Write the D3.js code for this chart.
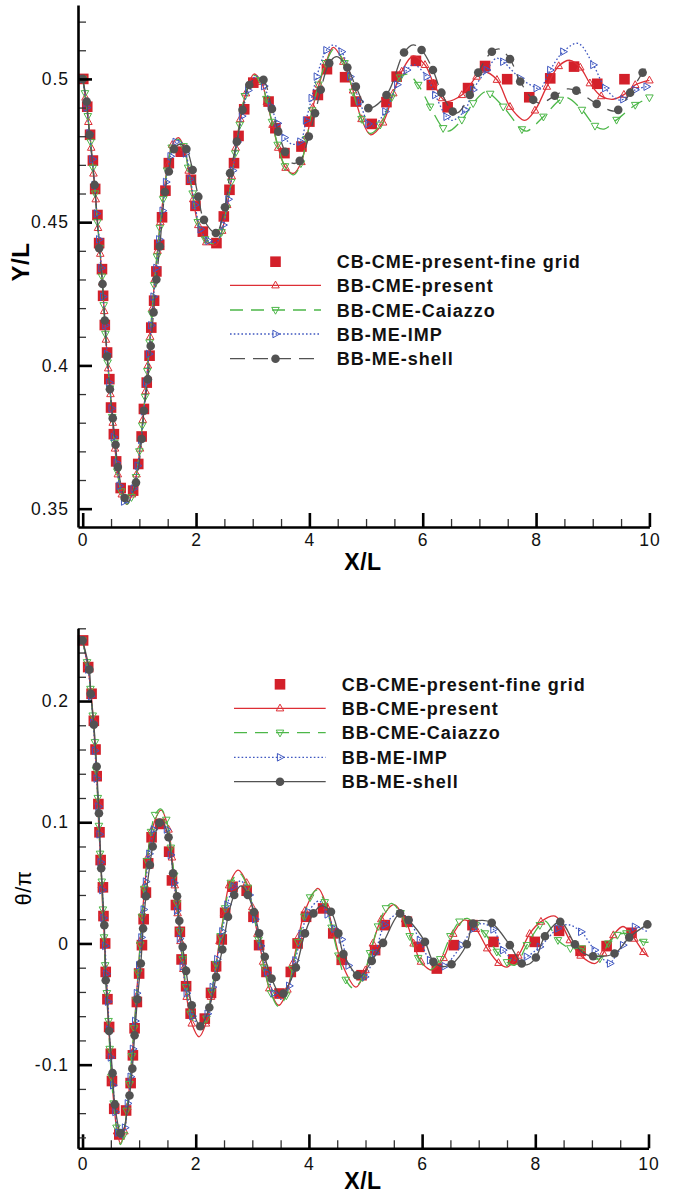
<!DOCTYPE html>
<html>
<head>
<meta charset="utf-8">
<script src="https://cdn.jsdelivr.net/npm/d3@7"></script>
<style>
  body { margin: 0; background: #fff; }
  svg { display: block; }
  text { font-family: "Liberation Sans", Arial, Helvetica, sans-serif; }
</style>
</head>
<body>
<div id="chart"></div>
<script>
// Nomes da legenda e ticks
const legendNames = ["CB-CME-present-fine grid", "BB-CME-present", "BB-CME-Caiazzo", "BB-ME-IMP", "BB-ME-shell"];
const xTicks = [0, 2, 4, 6, 8, 10];
const yTicksTop = [0.35, 0.4, 0.45, 0.5];
const yTicksBot = [-0.1, 0, 0.1, 0.2];

// ---------- painel de cima: Y/L ----------
// pontos [x, y]; com terceiro elemento 0 = ponto só da linha (sem marcador)
const topFine = [[0.01,0.500],[0.08,0.4903],[0.13,0.4805],[0.18,0.4715],[0.22,0.4616],[0.26,0.4525],[0.29,0.4427],[0.34,0.4336],[0.36,0.4243],[0.39,0.4141],[0.43,0.4045],[0.47,0.3952],[0.50,0.3853],[0.55,0.3760],[0.59,0.3665],[0.67,0.3572],[0.89,0.3563],[0.98,0.3656],[1.04,0.3752],[1.08,0.3848],[1.13,0.3940],[1.18,0.4034],[1.21,0.4132],[1.26,0.4226],[1.30,0.4328],[1.35,0.4421],[1.40,0.4517],[1.46,0.4610],[1.52,0.4706],[1.73,0.4746],[1.91,0.4648],[1.99,0.4557],[2.12,0.4467],[2.36,0.4427],[2.49,0.4520],[2.59,0.4613],[2.67,0.4706],[2.75,0.4801],[2.85,0.4894],[3.01,0.4987],[3.28,0.4921],[3.40,0.4828],[3.56,0.4741],[3.86,0.4764],[4.00,0.4851],[4.15,0.4944],[4.31,0.5034],[4.63,0.5006],[4.82,0.4921],[5.10,0.4843],[5.36,0.4919],[5.54,0.5008],[5.88,0.5063],[6.16,0.4979],[6.44,0.4901],[6.80,0.4968],[7.10,0.5045],[7.49,0.4999],[7.88,0.4936],[8.25,0.5002],[8.67,0.5043],[9.08,0.4983],[9.56,0.4999]];

const topPresent = [[0.00,0.500],[0.05,0.4935],[0.10,0.485],[0.15,0.476],[0.19,0.467],[0.23,0.458],[0.27,0.448],[0.31,0.439],[0.345,0.429],[0.38,0.419],[0.41,0.409],[0.45,0.399],[0.49,0.390],[0.53,0.380],[0.57,0.371],[0.62,0.362],[0.69,0.355],[0.78,0.3515,0],[0.87,0.355],[0.95,0.362],[1.01,0.371],[1.06,0.381],[1.11,0.391],[1.15,0.400],[1.19,0.410],[1.23,0.420],[1.27,0.430],[1.32,0.440],[1.37,0.450],[1.43,0.460],[1.50,0.470],[1.58,0.477],[1.69,0.4795,0],[1.79,0.476],[1.87,0.468],[1.95,0.458],[2.04,0.449],[2.18,0.443],[2.35,0.442,0],[2.46,0.447],[2.55,0.456],[2.63,0.466],[2.70,0.476],[2.78,0.486],[2.88,0.495],[3.02,0.5017,0],[3.15,0.499],[3.25,0.492],[3.35,0.484],[3.45,0.476],[3.58,0.469],[3.72,0.467,0],[3.86,0.471],[3.96,0.480],[4.06,0.490],[4.17,0.498],[4.29,0.5055],[4.42,0.511,0],[4.60,0.506],[4.77,0.496],[4.92,0.486],[5.08,0.4805,0],[5.30,0.4848],[5.48,0.495],[5.63,0.5026],[5.83,0.508,0],[6.04,0.5049],[6.19,0.4985],[6.34,0.4933],[6.42,0.4921,0],[6.69,0.4944],[6.95,0.5008],[7.08,0.5025,0],[7.31,0.4997],[7.54,0.4903],[7.80,0.4855,0],[7.98,0.489],[8.19,0.4973],[8.40,0.5045],[8.60,0.5065,0],[8.78,0.504],[8.95,0.4985],[9.15,0.494],[9.36,0.4929,0],[9.55,0.4945],[9.75,0.4979],[10.0,0.4995]];

const topCaiazzo = [[0.00,0.500],[0.04,0.495],[0.09,0.487],[0.14,0.478],[0.18,0.469],[0.22,0.460],[0.26,0.450],[0.30,0.441],[0.34,0.431],[0.37,0.421],[0.40,0.411],[0.44,0.401],[0.48,0.392],[0.52,0.382],[0.56,0.373],[0.61,0.363],[0.68,0.356],[0.78,0.3515,0],[0.86,0.354],[0.94,0.361],[1.00,0.370],[1.05,0.379],[1.10,0.389],[1.14,0.398],[1.18,0.408],[1.22,0.418],[1.26,0.428],[1.31,0.438],[1.36,0.448],[1.42,0.458],[1.49,0.468],[1.57,0.476],[1.68,0.479,0],[1.78,0.4765],[1.86,0.469],[1.94,0.460],[2.03,0.450],[2.16,0.444],[2.34,0.4425,0],[2.45,0.4465],[2.54,0.455],[2.62,0.464],[2.69,0.474],[2.77,0.484],[2.86,0.494],[3.01,0.5012,0],[3.14,0.4995],[3.24,0.493],[3.34,0.485],[3.44,0.477],[3.57,0.4695],[3.72,0.4665,0],[3.85,0.4705],[3.95,0.479],[4.05,0.489],[4.16,0.498],[4.29,0.5055],[4.44,0.5105,0],[4.62,0.5055],[4.77,0.4955],[4.92,0.486],[5.07,0.481,0],[5.25,0.484],[5.45,0.4935],[5.60,0.5005],[5.74,0.5016,0],[5.92,0.4979],[6.13,0.4903],[6.36,0.4828],[6.46,0.4818,0],[6.69,0.4857],[6.89,0.4915],[7.10,0.4955,0],[7.19,0.4948],[7.42,0.4903],[7.75,0.4824],[7.84,0.4818,0],[8.13,0.4868],[8.42,0.4927],[8.54,0.4935,0],[8.81,0.4892],[9.04,0.4836],[9.20,0.4825,0],[9.42,0.4857],[9.75,0.4909],[10.0,0.4935]];

const topIMP = [[0.00,0.500],[0.07,0.490],[0.12,0.481],[0.17,0.472],[0.21,0.463],[0.25,0.453],[0.29,0.444],[0.33,0.434],[0.36,0.424],[0.40,0.414],[0.43,0.404],[0.47,0.394],[0.51,0.385],[0.55,0.375],[0.60,0.366],[0.65,0.358],[0.73,0.3525],[0.79,0.3518,0],[0.90,0.357],[0.97,0.365],[1.03,0.374],[1.08,0.384],[1.12,0.394],[1.17,0.404],[1.21,0.414],[1.25,0.424],[1.30,0.434],[1.35,0.444],[1.41,0.454],[1.47,0.464],[1.55,0.473],[1.64,0.478],[1.71,0.4785,0],[1.82,0.474],[1.90,0.465],[1.98,0.456],[2.08,0.4475],[2.22,0.4435],[2.36,0.443,0],[2.48,0.449],[2.57,0.458],[2.65,0.468],[2.73,0.478],[2.81,0.487],[2.92,0.496],[3.06,0.501,0],[3.20,0.4975],[3.32,0.4905],[3.44,0.4845],[3.56,0.4795],[3.70,0.4772,0],[3.84,0.4781],[3.94,0.4855],[4.04,0.4933],[4.13,0.5008],[4.30,0.5100],[4.42,0.5118,0],[4.57,0.5095],[4.72,0.5008],[4.89,0.4921],[5.04,0.4843],[5.12,0.4835,0],[5.34,0.4886],[5.55,0.498],[5.72,0.5031],[5.84,0.505,0],[6.07,0.5008],[6.22,0.4944],[6.42,0.4868],[6.52,0.4855,0],[6.75,0.4892],[6.89,0.4962],[7.13,0.5031],[7.30,0.5072,0],[7.42,0.5060],[7.72,0.5002],[8.01,0.4968],[8.07,0.4964,0],[8.25,0.5031],[8.48,0.5095],[8.74,0.5124,0],[9.01,0.5049],[9.22,0.4968],[9.45,0.4927,0],[9.54,0.4929],[9.75,0.4962],[9.95,0.4973],[10.0,0.4975,0]];

const topShell = [[0.00,0.500],[0.07,0.4921],[0.12,0.4805],[0.21,0.463],[0.29,0.4409],[0.35,0.4284],[0.39,0.4157],[0.43,0.4031],[0.48,0.3917],[0.53,0.3816],[0.58,0.3723],[0.62,0.3645],[0.74,0.3537],[0.80,0.3525,0],[0.94,0.3591],[1.04,0.3743],[1.08,0.3842],[1.15,0.3952],[1.20,0.4068],[1.25,0.4185],[1.30,0.430],[1.36,0.4415],[1.45,0.4605],[1.52,0.4677],[1.61,0.4755],[1.72,0.4772,0],[1.83,0.4755],[1.94,0.4682],[2.04,0.4589],[2.14,0.4508],[2.35,0.4462],[2.51,0.4552],[2.60,0.4671],[2.72,0.4781],[2.82,0.4892],[2.94,0.4979],[3.08,0.5005,0],[3.19,0.4997],[3.34,0.4895],[3.45,0.4816],[3.57,0.4746],[3.70,0.4706,0],[3.83,0.4714],[3.99,0.4799],[4.10,0.488],[4.20,0.4962],[4.35,0.5055],[4.48,0.5078,0],[4.67,0.504],[4.82,0.4973],[5.04,0.4898],[5.36,0.4944],[5.67,0.5092],[5.83,0.5119,0],[5.98,0.5101],[6.18,0.5031],[6.33,0.4952],[6.53,0.4886],[6.62,0.4882,0],[6.83,0.4944],[6.98,0.5022],[7.22,0.5095],[7.36,0.5104,0],[7.54,0.5069],[7.72,0.4991],[7.95,0.4927],[8.07,0.4915,0],[8.33,0.4941],[8.55,0.4965,0],[8.71,0.4959],[9.07,0.4913],[9.35,0.4888,0],[9.45,0.4892],[9.66,0.4952],[9.88,0.5022],[10.0,0.5055,0]];

// ---------- painel de baixo: theta/pi ----------
const botFine = [[0.01,0.250],[0.10,0.228],[0.16,0.206],[0.20,0.1837],[0.23,0.160],[0.25,0.138],[0.28,0.115],[0.30,0.0917],[0.32,0.0688],[0.36,0.0463],[0.37,0.0226],[0.40,0.000],[0.41,-0.0235],[0.44,-0.046],[0.47,-0.0689],[0.50,-0.091],[0.52,-0.1135],[0.56,-0.1364],[0.65,-0.1576],[0.77,-0.1378],[0.85,-0.1152],[0.89,-0.0923],[0.92,-0.070],[0.96,-0.0483],[1.00,-0.0248],[1.05,-0.0014],[1.08,0.020],[1.12,0.042],[1.16,0.0661],[1.22,0.0876],[1.37,0.0986],[1.53,0.0757],[1.58,0.052],[1.65,0.0317],[1.72,0.0096],[1.75,-0.0132],[1.83,-0.0353],[1.91,-0.0579],[2.16,-0.062],[2.27,-0.0408],[2.36,-0.0188],[2.46,0.0033],[2.52,0.0253],[2.65,0.0468],[2.90,0.0435],[3.02,0.022],[3.12,-0.0014],[3.25,-0.0235],[3.48,-0.0413],[3.68,-0.0235],[3.80,0.000],[3.95,0.022],[4.25,0.0289],[4.43,0.0083],[4.58,-0.0135],[4.93,-0.0262],[5.17,-0.0055],[5.34,0.0151],[5.73,0.0179],[5.95,-0.0028],[6.26,-0.0207],[6.56,-0.0014],[6.89,0.0151],[7.26,0.0013],[7.61,-0.0132],[7.99,0.0013],[8.42,0.0104],[8.80,-0.0061],[9.26,-0.0022],[9.70,0.0088]];

const botPresent = [[0.00,0.250],[0.09,0.229],[0.15,0.207],[0.19,0.185],[0.22,0.162],[0.25,0.140],[0.27,0.117],[0.29,0.094],[0.32,0.071],[0.34,0.048],[0.36,0.025],[0.39,0.002],[0.41,-0.021],[0.44,-0.044],[0.46,-0.067],[0.49,-0.090],[0.52,-0.113],[0.56,-0.135],[0.61,-0.155],[0.67,-0.165,0],[0.74,-0.155],[0.79,-0.135],[0.84,-0.113],[0.88,-0.090],[0.92,-0.067],[0.95,-0.044],[0.99,-0.021],[1.02,0.002],[1.06,0.025],[1.10,0.048],[1.15,0.071],[1.22,0.093],[1.39,0.110,0],[1.52,0.094],[1.58,0.071],[1.63,0.048],[1.68,0.025],[1.73,0.002],[1.78,-0.021],[1.84,-0.044],[1.93,-0.066],[2.06,-0.077,0],[2.18,-0.066],[2.27,-0.044],[2.35,-0.021],[2.42,0.002],[2.50,0.025],[2.59,0.048],[2.75,0.0605,0],[2.90,0.050],[3.00,0.030],[3.09,0.008],[3.19,-0.015],[3.30,-0.037],[3.47,-0.051,0],[3.62,-0.038],[3.72,-0.016],[3.82,0.006],[3.93,0.027],[4.16,0.0455,0],[4.32,0.030],[4.44,0.008],[4.57,-0.015],[4.83,-0.036,0],[5.00,-0.022],[5.13,0.000],[5.28,0.020],[5.50,0.032,0],[5.70,0.020],[5.85,0.000],[5.98,-0.015],[6.18,-0.022,0],[6.38,-0.012],[6.55,0.008],[6.75,0.0195,0],[6.95,0.012],[7.15,-0.004],[7.35,-0.016],[7.50,-0.0195,0],[7.70,-0.010],[7.90,0.008],[8.10,0.018],[8.35,0.0225,0],[8.61,0.0027],[8.80,-0.010],[9.06,-0.0165,0],[9.20,-0.008],[9.38,0.0069],[9.55,0.0140,0],[9.75,0.004],[9.91,-0.007],[10.0,-0.011,0]];

const botCaiazzo = [[0.00,0.250],[0.08,0.232],[0.14,0.210],[0.18,0.188],[0.22,0.166],[0.24,0.143],[0.27,0.120],[0.29,0.097],[0.31,0.074],[0.34,0.051],[0.36,0.028],[0.38,0.005],[0.40,-0.018],[0.43,-0.041],[0.46,-0.064],[0.48,-0.087],[0.51,-0.110],[0.55,-0.132],[0.60,-0.152],[0.67,-0.166,0],[0.73,-0.158],[0.78,-0.138],[0.83,-0.116],[0.87,-0.093],[0.91,-0.070],[0.95,-0.047],[0.98,-0.024],[1.02,-0.001],[1.05,0.022],[1.09,0.045],[1.14,0.068],[1.21,0.092],[1.28,0.106],[1.38,0.111,0],[1.48,0.102],[1.56,0.079],[1.62,0.056],[1.67,0.033],[1.72,0.010],[1.77,-0.013],[1.83,-0.036],[1.91,-0.058],[2.05,-0.0705,0],[2.19,-0.062],[2.28,-0.040],[2.36,-0.017],[2.44,0.006],[2.52,0.029],[2.62,0.050],[2.77,0.058,0],[2.92,0.046],[3.02,0.025],[3.11,0.003],[3.21,-0.020],[3.33,-0.041],[3.46,-0.052,0],[3.60,-0.043],[3.71,-0.021],[3.81,0.001],[3.92,0.022],[4.02,0.038],[4.14,0.044,0],[4.28,0.034],[4.40,0.013],[4.52,-0.010],[4.65,-0.030],[4.79,-0.037,0],[4.95,-0.028],[5.08,-0.008],[5.22,0.014],[5.36,0.029],[5.46,0.033,0],[5.62,0.025],[5.78,0.006],[5.93,-0.012],[6.13,-0.022,0],[6.32,-0.013],[6.50,0.006],[6.66,0.018],[6.80,0.0207,0],[6.95,0.015],[7.11,0.0083],[7.32,-0.0069],[7.50,-0.0155],[7.64,-0.0179,0],[7.85,-0.0014],[8.08,0.0151],[8.18,0.0185,0],[8.40,0.0027],[8.62,-0.004],[8.82,-0.0041],[9.00,-0.012,0],[9.14,-0.0124],[9.29,0.000],[9.45,0.007],[9.61,0.0083],[9.91,0.0013],[10.0,0.001,0]];

const botIMP = [[0.00,0.250],[0.10,0.226],[0.15,0.204],[0.19,0.182],[0.22,0.159],[0.25,0.136],[0.28,0.113],[0.30,0.090],[0.32,0.067],[0.35,0.044],[0.37,0.021],[0.40,-0.002],[0.42,-0.025],[0.45,-0.048],[0.47,-0.071],[0.50,-0.094],[0.54,-0.117],[0.58,-0.139],[0.63,-0.156],[0.68,-0.161,0],[0.75,-0.152],[0.80,-0.132],[0.85,-0.110],[0.89,-0.087],[0.93,-0.064],[0.96,-0.041],[1.00,-0.018],[1.04,0.005],[1.08,0.028],[1.12,0.051],[1.18,0.074],[1.26,0.094],[1.37,0.102,0],[1.49,0.094],[1.56,0.073],[1.62,0.050],[1.67,0.027],[1.72,0.004],[1.77,-0.019],[1.84,-0.041],[1.94,-0.060],[2.08,-0.068,0],[2.21,-0.058],[2.30,-0.036],[2.38,-0.013],[2.47,0.010],[2.56,0.032],[2.67,0.047],[2.80,0.0515,0],[2.95,0.040],[3.05,0.020],[3.15,-0.002],[3.26,-0.024],[3.38,-0.041],[3.51,-0.046,0],[3.65,-0.035],[3.76,-0.014],[3.87,0.008],[3.99,0.026],[4.18,0.035,0],[4.33,0.024],[4.45,0.012],[4.58,0.0033],[4.70,-0.0182],[4.92,-0.028,0],[4.99,-0.0276],[5.17,-0.008],[5.34,0.0151],[5.60,0.025,0],[5.76,0.0193],[5.96,0.0027],[6.14,-0.0138],[6.36,-0.019,0],[6.40,-0.0188],[6.70,-0.0014],[6.90,0.012],[7.05,0.0165,0],[7.26,0.0116],[7.43,-0.0055],[7.68,-0.0145,0],[7.85,-0.011],[8.08,-0.0028],[8.40,0.0124],[8.58,0.0155,0],[8.81,0.0096],[9.05,-0.0055],[9.30,-0.0168,0],[9.32,-0.0165],[9.55,-0.0014],[9.76,0.0137],[10.0,0.009,0]];

const botShell = [[0.00,0.250],[0.12,0.2259],[0.145,0.206],[0.20,0.1804],[0.25,0.146],[0.29,0.1074],[0.33,0.062],[0.385,0.0151],[0.41,-0.0303],[0.47,-0.0722],[0.53,-0.107],[0.57,-0.1328],[0.67,-0.1565],[0.70,-0.157,0],[0.83,-0.1254],[0.88,-0.1033],[0.92,-0.0758],[0.97,-0.046],[1.03,-0.0165],[1.07,0.0124],[1.12,0.039],[1.19,0.0647],[1.24,0.080],[1.36,0.0997],[1.41,0.100,0],[1.52,0.0876],[1.60,0.0579],[1.67,0.039],[1.71,0.0187],[1.77,-0.0028],[1.83,-0.0226],[1.93,-0.051],[2.08,-0.0683],[2.24,-0.0529],[2.36,-0.0276],[2.47,-0.005],[2.57,0.022],[2.68,0.040],[2.80,0.0475,0],[2.92,0.040],[3.03,0.026],[3.12,0.0083],[3.22,-0.011],[3.34,-0.029],[3.50,-0.043,0],[3.55,-0.0413],[3.77,-0.0198],[3.93,0.0083],[4.08,0.0248],[4.22,0.031,0],[4.39,0.0261],[4.52,0.0083],[4.61,-0.0088],[4.85,-0.0262],[4.92,-0.027,0],[5.11,-0.0144],[5.31,0.0005],[5.61,0.0248],[5.76,0.0193],[6.05,0.0013],[6.20,-0.0152],[6.36,-0.019,0],[6.52,-0.0171],[6.79,-0.0006],[6.90,0.0165],[7.05,0.019,0],[7.23,0.017],[7.55,-0.0014],[7.76,-0.0165],[7.86,-0.0175,0],[8.01,-0.0116],[8.17,0.006],[8.44,0.0179],[8.70,-0.0006],[8.85,-0.008,0],[9.02,-0.0105],[9.40,-0.0083],[9.66,0.005],[9.98,0.0157]];

// Estilos das séries
const red = "#dd2e35", green = "#4cb748", blue = "#3f57c0", gray = "#525252", sqRed = "#d3202a";

const width = 674, height = 1195;
const svg = d3.select("#chart").append("svg")
  .attr("width", width)
  .attr("height", height);

// Caminhos dos marcadores triangulares
const triPath = {
  up: r => `M0,${-r}L${r * 0.9},${r * 0.62}L${-r * 0.9},${r * 0.62}Z`,
  down: r => `M0,${r}L${r * 0.9},${-r * 0.62}L${-r * 0.9},${-r * 0.62}Z`,
  right: r => `M${r},0L${-r * 0.62},${-r * 0.9}L${-r * 0.62},${r * 0.9}Z`,
};

function drawMarker(g, type, x, y, color) {
  if (type === "square") {
    g.append("rect").attr("x", x - 5.3).attr("y", y - 5.3)
      .attr("width", 10.6).attr("height", 10.6).attr("fill", sqRed);
  } else if (type === "circle") {
    g.append("circle").attr("cx", x).attr("cy", y).attr("r", 4.3).attr("fill", color);
  } else {
    g.append("path").attr("transform", `translate(${x},${y})`)
      .attr("d", triPath[type](4.2))
      .attr("fill", "none").attr("stroke", color).attr("stroke-width", 1);
  }
}

function drawPanel(p) {
  const x = d3.scaleLinear().domain(p.xDom).range([p.left, p.right]);
  const y = d3.scaleLinear().domain(p.yDom).range([p.bottom, p.top]);
  const g = svg.append("g");

  const line = d3.line()
    .x(d => x(d[0]))
    .y(d => y(d[1]))
    .curve(d3.curveCatmullRom.alpha(0.5));

  // quadrados da malha fina
  const gFine = g.append("g");
  p.fine.forEach(d => drawMarker(gFine, "square", x(d[0]), y(d[1])));

  // séries BB
  p.series.forEach(s => {
    g.append("path")
      .datum(s.data)
      .attr("d", line)
      .attr("fill", "none")
      .attr("stroke", s.color)
      .attr("stroke-width", 1.3)
      .attr("stroke-dasharray", s.dash);
    const gm = g.append("g");
    s.data.filter(d => d.length < 3)
      .forEach(d => drawMarker(gm, s.marker, x(d[0]), y(d[1]), s.color));
  });

  // eixo X
  const xAxis = g.append("g").attr("transform", `translate(0,${p.bottom})`);
  xAxis.append("g")
    .call(d3.axisBottom(x).tickValues(d3.range(0.5, 10, 0.5).filter(v => v % 2 !== 0))
      .tickSize(-8).tickFormat(""))
    .call(a => a.select(".domain").remove())
    .call(a => a.selectAll("line").attr("stroke", "#333").attr("stroke-width", 1.3));
  xAxis.append("g")
    .call(d3.axisBottom(x).tickValues(xTicks).tickSize(-14).tickSizeOuter(0).tickPadding(p.xPad))
    .call(a => a.select(".domain").attr("stroke", "#000").attr("stroke-width", 2.6))
    .call(a => a.selectAll("line").attr("stroke", "#000").attr("stroke-width", 2.6))
    .call(a => a.selectAll("text").attr("font-size", 17.5).attr("fill", "#111")
      .style("letter-spacing", "1px").style("font-family", "'Liberation Sans', Arial, sans-serif"));

  // eixo Y
  const yAxis = g.append("g").attr("transform", `translate(${p.left},0)`);
  yAxis.append("g")
    .call(d3.axisLeft(y).tickValues(p.yMinor).tickSize(-8).tickFormat(""))
    .call(a => a.select(".domain").remove())
    .call(a => a.selectAll("line").attr("stroke", "#333").attr("stroke-width", 1.3));
  yAxis.append("g")
    .call(d3.axisLeft(y).tickValues(p.yTicks).tickSize(-14).tickSizeOuter(0).tickPadding(9)
      .tickFormat(d => String(+d.toFixed(2))))
    .call(a => a.select(".domain").attr("stroke", "#000").attr("stroke-width", 2.6))
    .call(a => a.selectAll("line").attr("stroke", "#000").attr("stroke-width", 2.6))
    .call(a => a.selectAll("text").attr("font-size", 17.5).attr("fill", "#111")
      .style("letter-spacing", "1px").style("font-family", "'Liberation Sans', Arial, sans-serif"));

  // títulos dos eixos
  g.append("text")
    .attr("x", 363).attr("y", p.xTitleY)
    .attr("text-anchor", "middle")
    .attr("font-size", 23).attr("font-weight", "bold")
    .style("letter-spacing", "0.5px")
    .text("X/L");
  g.append("text")
    .attr("transform", `translate(${p.yTitleX},${p.yTitleY}) rotate(-90)`)
    .attr("text-anchor", "middle")
    .attr("font-size", p.yTitleSize).attr("font-weight", p.yTitleWeight)
    .style("letter-spacing", "0.5px")
    .text(p.yTitle);

  // legenda
  const lg = g.append("g");
  const rows = p.legendRows;
  legendNames.forEach((name, i) => {
    lg.append("text")
      .attr("x", p.legTextX).attr("y", rows[i] + 6.5)
      .attr("font-size", 18).attr("font-weight", "bold")
      .style("letter-spacing", "1px")
      .attr("fill", "#111")
      .text(name);
  });
  drawMarker(lg, "square", p.legMarkX, rows[0]);
  p.series.forEach((s, i) => {
    lg.append("line")
      .attr("x1", p.legLineX[0]).attr("x2", p.legLineX[1])
      .attr("y1", rows[i + 1]).attr("y2", rows[i + 1])
      .attr("stroke", s.color).attr("stroke-width", 1.3)
      .attr("stroke-dasharray", s.dash);
    drawMarker(lg, s.marker, p.legMarkX, rows[i + 1], s.color);
  });
}

// painel de cima
drawPanel({
  xDom: [-0.083, 10], yDom: [0.3436, 0.5258],
  left: 78, right: 649.4, top: 5, bottom: 527,
  yTicks: yTicksTop,
  yMinor: d3.range(35, 53).map(v => v / 100).filter(v => !yTicksTop.includes(v)),
  xPad: 7,
  fine: topFine,
  series: [
    { data: topPresent, color: red, dash: null, marker: "up" },
    { data: topCaiazzo, color: green, dash: "13,8", marker: "down" },
    { data: topIMP, color: blue, dash: "1.6,2.2", marker: "right" },
    { data: topShell, color: gray, dash: "15,8", marker: "circle" },
  ],
  xTitleY: 569.5, yTitle: "Y/L", yTitleX: 29, yTitleY: 262, yTitleWeight: "bold", yTitleSize: 24,
  legendRows: [261.7, 285.3, 310, 334, 358.7],
  legTextX: 336.7, legMarkX: 275.5, legLineX: [230, 321],
});

// painel de baixo
drawPanel({
  xDom: [-0.08, 10], yDom: [-0.169, 0.26],
  left: 78, right: 648.5, top: 628.3, bottom: 1148.3,
  yTicks: yTicksBot,
  yMinor: d3.range(-8, 14).map(v => v / 50).filter(v => !yTicksBot.some(t => Math.abs(t - v) < 1e-9)),
  xPad: 9,
  fine: botFine,
  series: [
    { data: botPresent, color: red, dash: null, marker: "up" },
    { data: botCaiazzo, color: green, dash: "13,8", marker: "down" },
    { data: botIMP, color: blue, dash: "1.6,2.2", marker: "right" },
    { data: botShell, color: gray, dash: null, marker: "circle" },
  ],
  xTitleY: 1189, yTitle: "θ/π", yTitleX: 31, yTitleY: 888, yTitleWeight: "normal", yTitleSize: 22,
  legendRows: [684.3, 708.3, 732.7, 757.3, 781.7],
  legTextX: 341.7, legMarkX: 280, legLineX: [234, 325.7],
});
</script>
</body>
</html>
